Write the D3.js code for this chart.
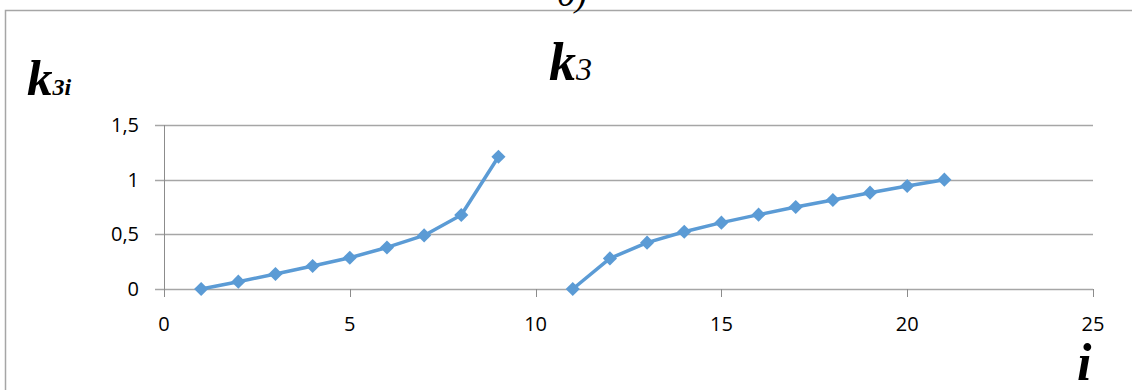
<!DOCTYPE html>
<html>
<head>
<meta charset="utf-8">
<script src="https://cdn.jsdelivr.net/npm/d3@7"></script>
<style>
  html, body { margin: 0; padding: 0; background: #fff; }
  svg { display: block; }
</style>
</head>
<body>
<svg id="chart" width="1132" height="390"></svg>
<script>
// data (x = i, y = k3i; 10 is a gap)
const iValues = [1, 2, 3, 4, 5, 6, 7, 8, 9, 10, 11, 12, 13, 14, 15, 16, 17, 18, 19, 20, 21];
const k3Values = [0, 0.067, 0.137, 0.21, 0.286, 0.38, 0.49, 0.677, 1.21, null,
                  0, 0.28, 0.424, 0.524, 0.607, 0.68, 0.75, 0.814, 0.881, 0.942, 1.0];
const xTicks = [0, 5, 10, 15, 20, 25];
const yTicks = [0, 0.5, 1, 1.5];

// configs
const LINE_COLOR = '#5b9bd5';
const GRID_COLOR = '#a6a6a6';
const AXIS_COLOR = '#8c8c8c';
const SERIF = '"Liberation Serif", "Times New Roman", serif';
const SANS = '"Open Sans", "Noto Sans", sans-serif';

const svg = d3.select('#chart');

// outer frame (top and left edges visible)
svg.append('path')
  .attr('d', 'M5.5,390 V10.5 H1132')
  .attr('fill', 'none')
  .attr('stroke', '#a6a6a6')
  .attr('stroke-width', 1.5);

// caption above the frame, cut off by the top edge as in the source
svg.append('text')
  .attr('x', 557).attr('y', 6)
  .style('font-family', SERIF).style('font-style', 'italic')
  .style('font-size', '36px')
  .text('б)');

const x = d3.scaleLinear().domain([0, 25]).range([164, 1093]);
const y = d3.scaleLinear().domain([0, 1.5]).range([289, 125]);

// horizontal gridlines
svg.append('g')
  .selectAll('line')
  .data(yTicks)
  .join('line')
  .attr('x1', x(0) - 9).attr('x2', x(25))
  .attr('y1', d => Math.round(y(d)) + 0.5)
  .attr('y2', d => Math.round(y(d)) + 0.5)
  .attr('stroke', GRID_COLOR)
  .attr('stroke-width', 1.3);

// vertical axis line
svg.append('line')
  .attr('x1', Math.round(x(0)) + 0.5).attr('x2', Math.round(x(0)) + 0.5)
  .attr('y1', y(1.5)).attr('y2', y(0) + 8)
  .attr('stroke', AXIS_COLOR);

// x ticks
svg.append('g')
  .selectAll('line')
  .data(xTicks)
  .join('line')
  .attr('x1', d => Math.round(x(d)) + 0.5)
  .attr('x2', d => Math.round(x(d)) + 0.5)
  .attr('y1', y(0)).attr('y2', y(0) + 8)
  .attr('stroke', AXIS_COLOR);

const fmt = d => String(d).replace('.', ',');

// y tick labels
svg.append('g')
  .selectAll('text')
  .data(yTicks)
  .join('text')
  .attr('x', 139)
  .attr('y', d => y(d) + 7)
  .attr('text-anchor', 'end')
  .style('font-family', SANS)
  .style('font-size', '20px')
  .text(fmt);

// x tick labels
svg.append('g')
  .selectAll('text')
  .data(xTicks)
  .join('text')
  .attr('x', d => x(d))
  .attr('y', 331)
  .attr('text-anchor', 'middle')
  .style('font-family', SANS)
  .style('font-size', '20px')
  .text(fmt);

const points = iValues.map((v, k) => ({ i: v, k3: k3Values[k] }));

const line = d3.line()
  .defined(d => d.k3 !== null)
  .x(d => x(d.i))
  .y(d => y(d.k3));

svg.append('path')
  .datum(points)
  .attr('d', line)
  .attr('fill', 'none')
  .attr('stroke', LINE_COLOR)
  .attr('stroke-width', 3.5)
  .attr('stroke-linejoin', 'round');

// diamond markers (rotated squares)
const marker = d3.symbol().type(d3.symbolSquare).size(100);
svg.append('g')
  .selectAll('path')
  .data(points.filter(d => d.k3 !== null))
  .join('path')
  .attr('d', marker)
  .attr('transform', d => `translate(${x(d.i)},${y(d.k3)}) rotate(45)`)
  .attr('fill', LINE_COLOR);

// chart title
const title = svg.append('text')
  .attr('x', 549).attr('y', 80)
  .style('font-family', SERIF)
  .style('font-style', 'italic')
  .style('font-weight', 'bold');
title.append('tspan').style('font-size', '54px').text('k');
title.append('tspan').style('font-size', '32px').style('font-weight', 'normal').text('3');

// y axis title
const yTitle = svg.append('text')
  .attr('x', 27).attr('y', 95)
  .style('font-family', SERIF)
  .style('font-style', 'italic')
  .style('font-weight', 'bold');
yTitle.append('tspan').style('font-size', '51px').text('k');
yTitle.append('tspan').style('font-size', '24px').text('3i');

// x axis title
svg.append('text')
  .attr('x', 1077).attr('y', 380)
  .style('font-family', SERIF)
  .style('font-style', 'italic')
  .style('font-weight', 'bold')
  .style('font-size', '52px')
  .text('i');
</script>
</body>
</html>
